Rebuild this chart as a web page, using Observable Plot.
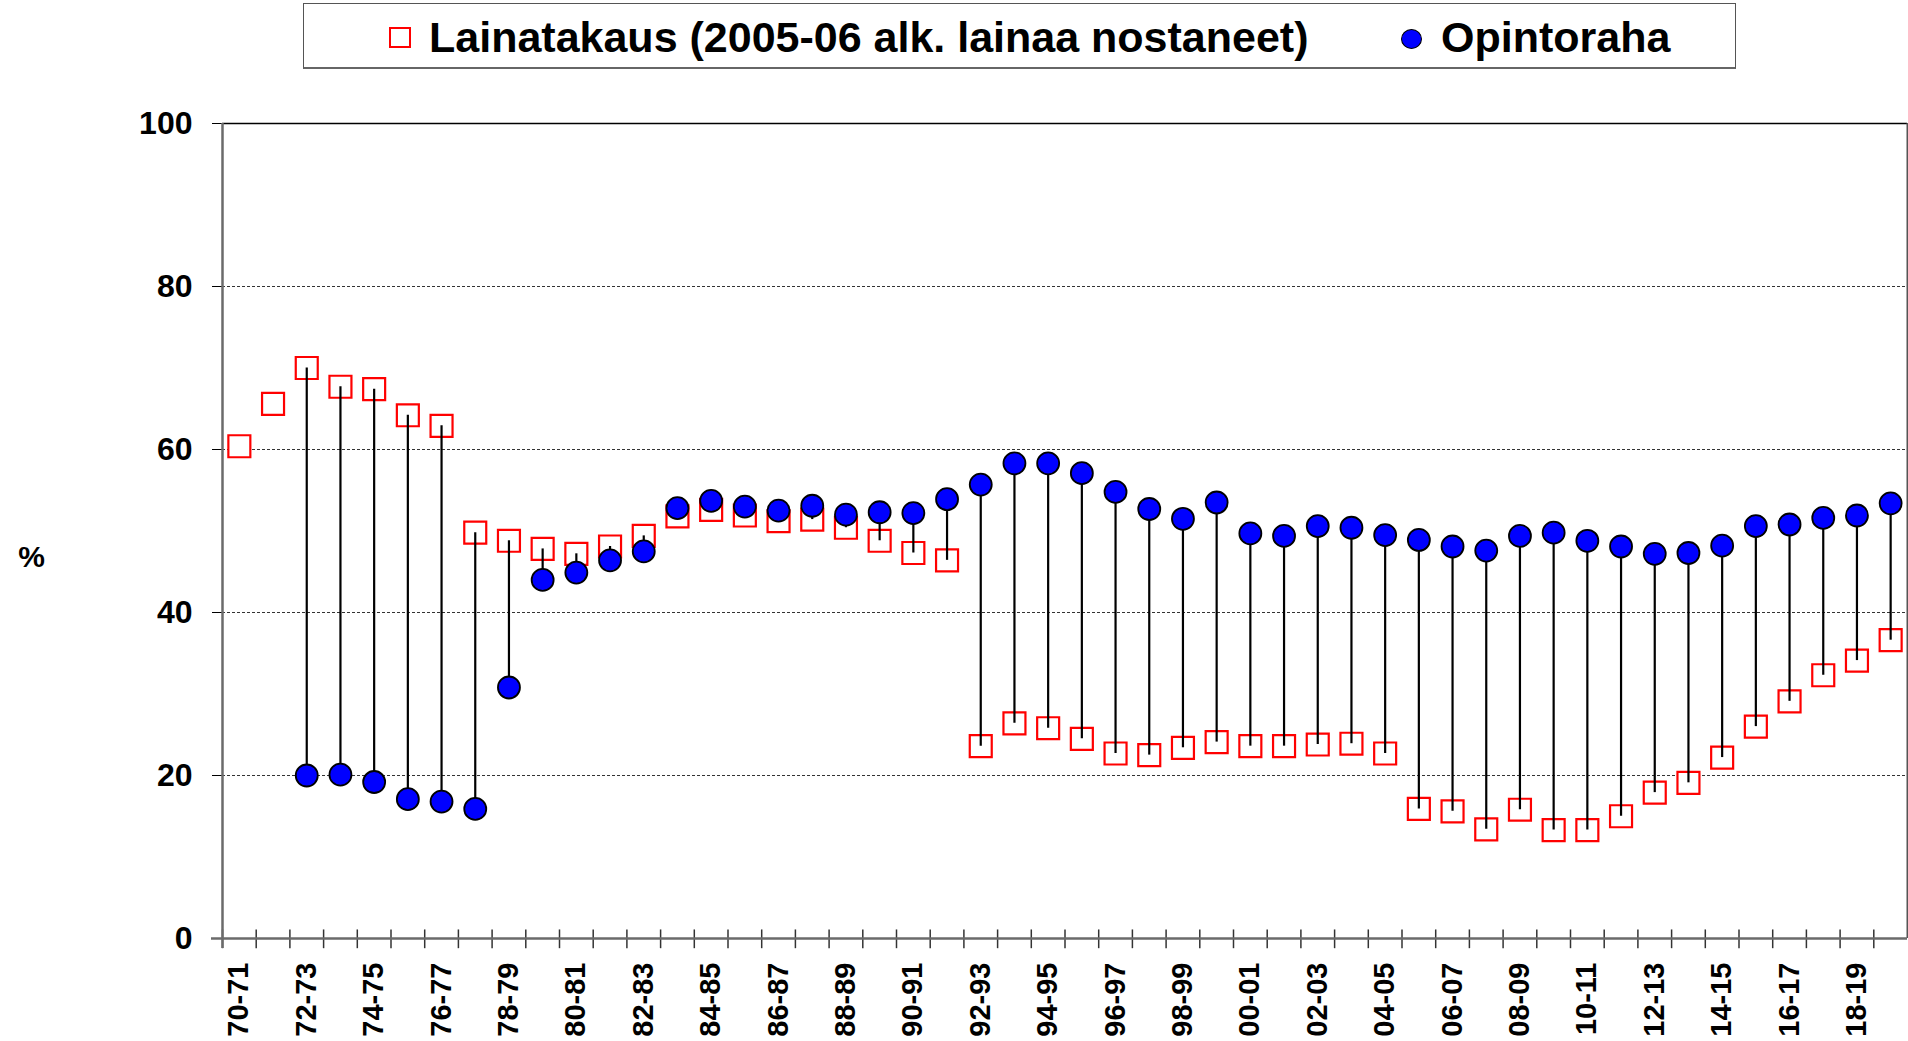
<!DOCTYPE html>
<html>
<head>
<meta charset="utf-8">
<script src="https://cdn.jsdelivr.net/npm/d3@7"></script>
<script src="https://cdn.jsdelivr.net/npm/@observablehq/plot@0.6"></script>
<style>
  html, body { margin: 0; padding: 0; background: #fff; }
  body { width: 1908px; height: 1041px; overflow: hidden; position: relative;
         font-family: "Liberation Sans", Arial, sans-serif; }
  #legend { position: absolute; left: 303px; top: 3px; width: 1433px; height: 66px;
            box-sizing: border-box; border: 1.5px solid #555; border-bottom: 2px solid #666; }
  .lg-sq { position: absolute; box-sizing: border-box; width: 22px; height: 21px;
           border: 2px solid #ff0000; background: #fff; }
  .lg-ci { position: absolute; box-sizing: border-box; width: 21px; height: 20px;
           border: 1.5px solid #000; background: #0000ff; border-radius: 50%; }
  .lg-tx { position: absolute; font-weight: bold; font-size: 43px; line-height: 1; color: #000; white-space: nowrap; }
  #chart { position: absolute; left: 0; top: 80px; }
</style>
</head>
<body>
<div id="legend"></div>
<div id="chart"></div>
<script>
// ---- data ----
const categories = ["70-71","71-72","72-73","73-74","74-75","75-76","76-77","77-78","78-79","79-80",
  "80-81","81-82","82-83","83-84","84-85","85-86","86-87","87-88","88-89","89-90",
  "90-91","91-92","92-93","93-94","94-95","95-96","96-97","97-98","98-99","99-00",
  "00-01","01-02","02-03","03-04","04-05","05-06","06-07","07-08","08-09","09-10",
  "10-11","11-12","12-13","13-14","14-15","15-16","16-17","17-18","18-19","19-20"];

const lainatakaus = [60.4,65.6,70.0,67.7,67.4,64.2,62.9,49.8,48.8,47.8,
  47.2,48.1,49.4,51.8,52.6,51.9,51.2,51.4,50.4,48.8,
  47.3,46.4,23.6,26.4,25.8,24.5,22.7,22.5,23.4,24.1,
  23.6,23.6,23.8,23.9,22.7,15.9,15.6,13.4,15.8,13.3,
  13.3,15.0,17.9,19.1,22.2,26.0,29.1,32.3,34.1,36.6];

const opintoraha = [null,null,20.0,20.1,19.2,17.1,16.8,15.9,30.8,44.0,
  44.9,46.4,47.5,52.8,53.7,53.0,52.5,53.1,52.0,52.3,
  52.2,53.9,55.7,58.3,58.3,57.1,54.8,52.7,51.5,53.5,
  49.7,49.4,50.6,50.4,49.5,48.9,48.1,47.6,49.4,49.8,
  48.8,48.1,47.2,47.3,48.2,50.6,50.8,51.6,51.9,53.4];

const tickLabels = ["70-71","72-73","74-75","76-77","78-79","80-81","82-83","84-85","86-87","88-89",
  "90-91","92-93","94-95","96-97","98-99","00-01","02-03","04-05","06-07","08-09",
  "10-11","12-13","14-15","16-17","18-19"];

const yTicks = [0, 20, 40, 60, 80, 100];
const gridValues = [20, 40, 60, 80];
const seriesNames = ["Lainatakaus (2005-06 alk. lainaa nostaneet)", "Opintoraha"];

// ---- table ----
const rows = categories.map((c, i) => ({cat: c, loan: lainatakaus[i], grant: opintoraha[i]}));
const loanRows = rows.filter(d => d.loan != null);
const grantRows = rows.filter(d => d.grant != null);
const bothRows = rows.filter(d => d.loan != null && d.grant != null);

// ---- legend (HTML) ----
const legend = document.getElementById("legend");
function place(el, left, top) { el.style.left = (left - 303) + "px"; el.style.top = (top - 3) + "px"; legend.appendChild(el); }
const sq = document.createElement("div"); sq.className = "lg-sq"; place(sq, 388, 26);
const t1 = document.createElement("div"); t1.className = "lg-tx"; t1.textContent = seriesNames[0]; place(t1, 428, 15);
const ci = document.createElement("div"); ci.className = "lg-ci"; place(ci, 1400, 28);
const t2 = document.createElement("div"); t2.className = "lg-tx"; t2.textContent = seriesNames[1]; place(t2, 1440, 15);

// ---- chart ----
const W = 1908, H = 961, mL = 222, mR = 1, mT = 43, mB = 103;
const bw = (W - mL - mR) / categories.length;
const font = "'Liberation Sans', Arial, sans-serif";

const chart = Plot.plot({
  width: W, height: H,
  marginLeft: mL, marginRight: mR, marginTop: mT, marginBottom: mB,
  style: {fontFamily: font, fontWeight: "bold", background: "#fff", overflow: "visible"},
  x: {type: "band", domain: categories, padding: 0, axis: null},
  y: {domain: [0, 100], axis: null},
  marks: [
    // dashed gridlines
    Plot.ruleY(gridValues, {stroke: "#333", strokeWidth: 1, strokeDasharray: "3,2"}),
    // top border
    Plot.ruleY([yTicks[yTicks.length - 1]], {stroke: "#000", strokeWidth: 1.5}),
    // right border
    Plot.ruleX([categories[categories.length - 1]], {dx: bw / 2, stroke: "#555", strokeWidth: 2}),
    // y axis ticks and labels
    Plot.axisY({ticks: yTicks, tickSize: 10, tickPadding: 20, fontSize: 32, fontWeight: "bold",
      fontFamily: font, tickFormat: d => String(d), label: null, stroke: "#000", strokeWidth: 1}),
    // category boundary ticks
    Plot.ruleX(categories, {dx: -bw / 2, y1: -1.25, y2: 1.05, stroke: "#333", strokeWidth: 1.5}),
    // x axis line
    Plot.ruleY([0], {stroke: "#6b6b6b", strokeWidth: 2.5, insetLeft: -11}),
    // y axis line
    Plot.ruleX([categories[0]], {dx: -bw / 2, stroke: "#6b6b6b", strokeWidth: 2.5, insetBottom: -10}),
    // squares (Lainatakaus)
    Plot.dot(loanRows, {x: "cat", y: "loan", symbol: "square", r: 12.4, stroke: "#ff0000", strokeWidth: 2.2, fill: "#fff"}),
    // stems
    Plot.ruleX(bothRows, {x: "cat", y1: "loan", y2: "grant", stroke: "#000", strokeWidth: 2.2}),
    // circles (Opintoraha)
    Plot.dot(grantRows, {x: "cat", y: "grant", r: 11, fill: "#0000ff", stroke: "#000", strokeWidth: 1.8}),
    // x tick labels
    Plot.text(tickLabels, {x: d => d, frameAnchor: "bottom", rotate: -90, textAnchor: "end",
      dx: 9, dy: 24, fontSize: 29, fontWeight: "bold", fill: "#000"}),
    // % label
    Plot.text(["%"], {frameAnchor: "left", textAnchor: "middle", dx: -191, dy: 26, fontSize: 30, fontWeight: "bold", fill: "#000"})
  ]
});
document.getElementById("chart").appendChild(chart);
</script>
</body>
</html>
